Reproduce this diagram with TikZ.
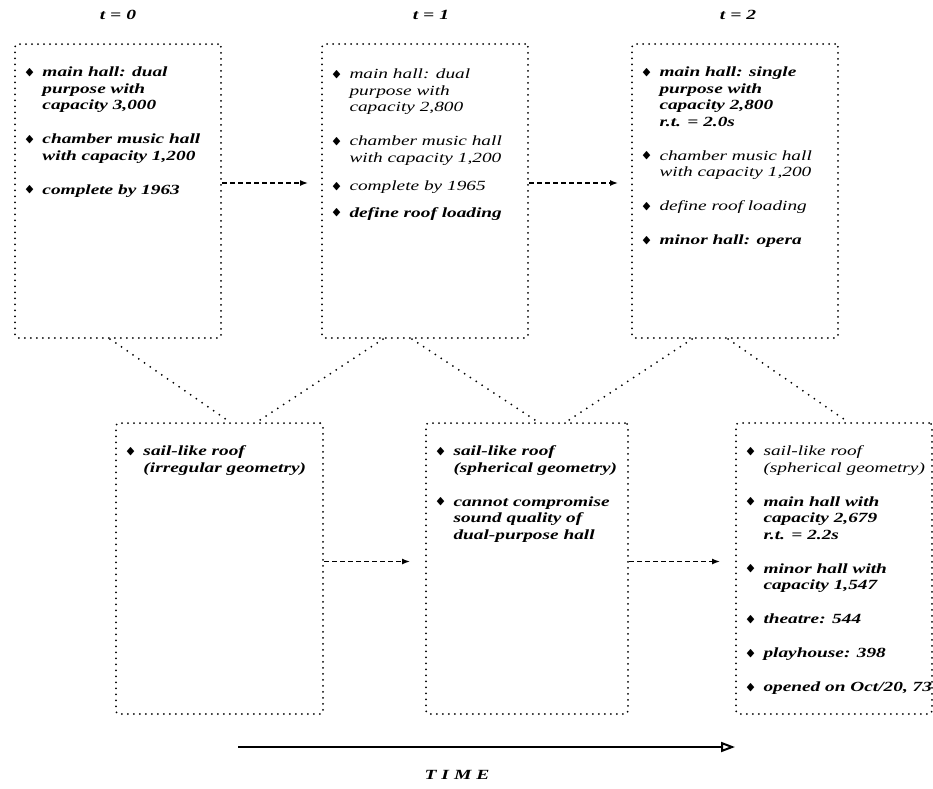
\documentclass[tikz,border=0pt]{standalone}
\usepackage{amssymb}
\usepackage{fontspec}
\setmainfont{Liberation Serif}
\usepackage{graphicx}
\usetikzlibrary{arrows.meta,calc}

\newcommand{\blt}{\raisebox{0.25ex}{$\scriptstyle\blacklozenge$}}
\newcommand{\old}[1]{{\mdseries#1}}
\newcommand{\gap}{\\[17.5pt]}
\newcommand{\plan}[1]{\scalebox{1.38}[1]{\fontsize{14}{16.5}\selectfont\bfseries\itshape
  \begin{tabular}{@{}l@{\hspace{6pt}}l@{}}#1\end{tabular}}}
\newcommand{\stamp}[1]{\scalebox{1.4}[1]{\fontsize{14}{16}\selectfont\bfseries\itshape #1}}

\begin{document}
\begin{tikzpicture}[x=1pt,y=-1pt,
    panel/.style={draw,line width=2pt,dash pattern=on 0pt off 6pt,line cap=round,
      rounded corners=3pt,anchor=north west,inner sep=0pt},
    items/.style={anchor=north west,inner sep=0pt},
    dots/.style={line width=2pt,dash pattern=on 0pt off 7pt,line cap=round},
    flow/.style={line width=1.4pt,dash pattern=on 5pt off 3pt,-{Latex[length=8pt,width=6pt]}}]
  \useasboundingbox (0,0) rectangle (933,788);
  \node[panel,minimum width=206pt,minimum height=294pt] (spec0) at (14,43) {};
  \node[panel,minimum width=206pt,minimum height=294pt] (spec1) at (321,43) {};
  \node[panel,minimum width=206pt,minimum height=294pt] (spec2) at (631,43) {};
  \node[panel,minimum width=207pt,minimum height=291pt] (des0) at (115,422) {};
  \node[panel,minimum width=202pt,minimum height=291pt] (des1) at (425,422) {};
  \node[panel,minimum width=196pt,minimum height=291pt] (des2) at (735,422) {};

  \node (lab0) at ($(spec0.north)+(0,-28)$) {\stamp{t = 0}};
  \node (lab1) at ($(spec1.north)+(6,-28)$) {\stamp{t = 1}};
  \node (lab2) at ($(spec2.north)+(3,-28)$) {\stamp{t = 2}};

  \node[items] (spec0txt) at ($(spec0.north west)+(11,22)$) {\plan{
    \blt & main hall: dual\\ & purpose with\\ & capacity 3,000\gap
    \blt & chamber music hall\\ & with capacity 1,200\gap
    \blt & complete by 1963}};
  \node[items] (spec1txt) at ($(spec1.north west)+(11,24)$) {\plan{
    \blt & \old{main hall: dual}\\ & \old{purpose with}\\ & \old{capacity 2,800}\gap
    \blt & \old{chamber music hall}\\ & \old{with capacity 1,200}\\[12pt]
    \blt & \old{complete by 1965}\\[10pt]
    \blt & define roof loading}};
  \node[items] (spec2txt) at ($(spec2.north west)+(11,22)$) {\plan{
    \blt & main hall: single\\ & purpose with\\ & capacity 2,800\\ & r.t. = 2.0s\gap
    \blt & \old{chamber music hall}\\ & \old{with capacity 1,200}\gap
    \blt & \old{define roof loading}\gap
    \blt & minor hall: opera}};
  \node[items] (des0txt) at ($(des0.north west)+(11,22)$) {\plan{
    \blt & sail-like roof\\ & (irregular geometry)}};
  \node[items] (des1txt) at ($(des1.north west)+(11,22)$) {\plan{
    \blt & sail-like roof\\ & (spherical geometry)\gap
    \blt & cannot compromise\\ & sound quality of\\ & dual-purpose hall}};
  \node[items] (des2txt) at ($(des2.north west)+(11,22)$) {\plan{
    \blt & \old{sail-like roof}\\ & \old{(spherical geometry)}\gap
    \blt & main hall with\\ & capacity 2,679\\ & r.t. = 2.2s\gap
    \blt & minor hall with\\ & capacity 1,547\gap
    \blt & theatre: 544\gap
    \blt & playhouse: 398\gap
    \blt & opened on Oct/20, 73}};

  \draw[flow,shorten >=13pt] ($(spec0.east)+(0,-8)$) -- ($(spec1.west)+(0,-8)$);
  \draw[flow,shorten >=13pt] ($(spec1.east)+(0,-8)$) -- ($(spec2.west)+(0,-8)$);
  \draw[flow,shorten >=15pt] ($(des0.east)+(0,-7)$) -- ($(des1.west)+(0,-7)$);
  \draw[flow,shorten >=15pt] ($(des1.east)+(0,-7)$) -- ($(des2.west)+(0,-7)$);

  \draw[dots] ($(spec0.south west)+(96,0)$) -- ($(des0.north west)+(115,0)$);
  \draw[dots] ($(spec1.south west)+(62,0)$) -- ($(des0.north west)+(142,0)$);
  \draw[dots] ($(spec1.south west)+(91,0)$) -- ($(des1.north west)+(113,0)$);
  \draw[dots] ($(spec2.south west)+(61,0)$) -- ($(des1.north west)+(141,0)$);
  \draw[dots] ($(spec2.south west)+(97,0)$) -- ($(des2.north west)+(113,0)$);

  \coordinate (tstart) at (238,747);
  \coordinate (tend) at (735,747);
  \draw[line width=2pt,-{Triangle[open,length=14pt,width=10pt]}] (tstart) -- (tend);
  \node (time) at (457,775) {\stamp{T\ I\ M\ E}};
\end{tikzpicture}
\end{document}
